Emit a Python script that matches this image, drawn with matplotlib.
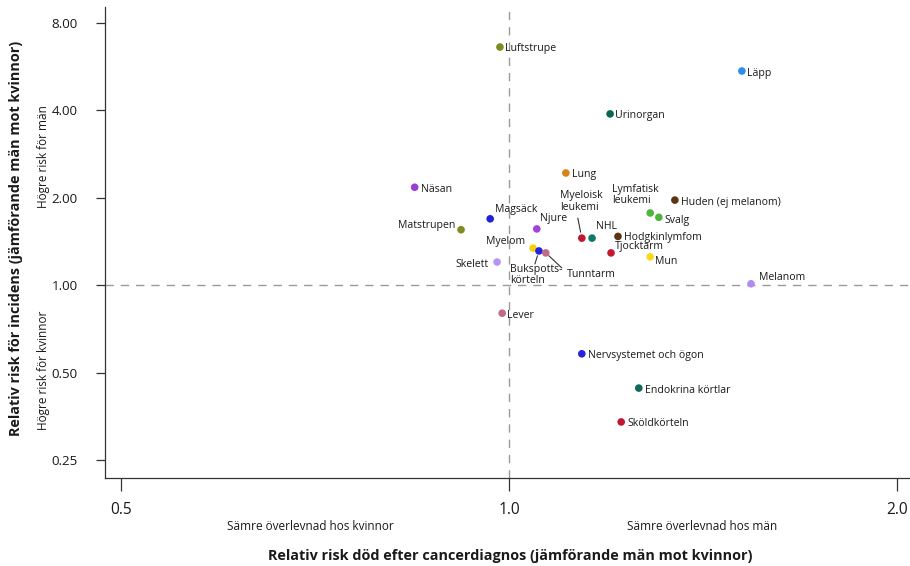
import matplotlib
matplotlib.use("Agg")
import matplotlib.pyplot as plt
from matplotlib import font_manager
from matplotlib.ticker import FixedLocator, NullLocator, FixedFormatter

# Cancer sites: relative risk of death after diagnosis (x) and relative incidence (y), men vs women
sites = ["Luftstrupe", "Läpp", "Urinorgan", "Lung", "Näsan", "Huden (ej melanom)",
         "Lymfatisk\nleukemi", "Svalg", "Magsäck", "Matstrupen", "Njure",
         "Myeloisk\nleukemi", "NHL", "Hodgkinlymfom", "Myelom", "Bukspotts-\nkörteln",
         "Tunntarm", "Tjocktarm", "Mun", "Skelett", "Melanom", "Lever",
         "Nervsystemet och ögon", "Endokrina körtlar", "Sköldkörteln"]
death_rr = [0.984, 1.516, 1.198, 1.107, 0.845, 1.345,
            1.287, 1.307, 0.967, 0.918, 1.051,
            1.139, 1.160, 1.215, 1.044, 1.055,
            1.068, 1.200, 1.287, 0.979, 1.541, 0.988,
            1.139, 1.261, 1.222]
incidence_rr = [6.59, 5.45, 3.88, 2.43, 2.17, 1.96,
                1.77, 1.71, 1.69, 1.55, 1.56,
                1.45, 1.45, 1.47, 1.34, 1.31,
                1.29, 1.29, 1.25, 1.20, 1.01, 0.80,
                0.58, 0.442, 0.338]
colors = ["#808b22", "#2b8ef0", "#0d6356", "#d9821c", "#9b3bd8", "#5b3412",
          "#4fb43c", "#4fb43c", "#2323d4", "#808b22", "#a143e0",
          "#c2182f", "#10796a", "#5b3412", "#f5d20f", "#2323e0",
          "#c06b8a", "#c2182f", "#f8d81a", "#b795f0", "#b08cf0", "#c06b8a",
          "#2323e0", "#0f6a5a", "#c2182f"]

x_ticks = [0.5, 1.0, 2.0]
x_tick_labels = ["0.5", "1.0", "2.0"]
y_ticks = [0.25, 0.5, 1.0, 2.0, 4.0, 8.0]
y_tick_labels = ["0.25", "0.50", "1.00", "2.00", "4.00", "8.00"]


def pick_font(*names):
    for n in names:
        try:
            font_manager.findfont(n, fallback_to_default=False)
            return n
        except Exception:
            continue
    return "DejaVu Sans"


base_font = pick_font("Open Sans", "Lato", "Noto Sans")
narrow_font = pick_font("Liberation Sans Narrow", "Open Sans", "Lato")
plt.rcParams["font.family"] = [base_font, "DejaVu Sans"]

W, H = 910, 566
fig = plt.figure(figsize=(W / 100, H / 100), dpi=100)
ax = fig.add_axes([105 / W, (H - 478) / H, (W - 105) / W, (478 - 7) / H])

ax.set_xscale("log", base=2)
ax.set_yscale("log", base=2)
ax.set_xlim(2 ** -1.041, 2 ** 1.0335)
ax.set_ylim(0.2168, 9.05)

# reference lines at equal risk
ax.axvline(1.0, color="#9a9a9a", lw=1.0, ls=(0, (6, 5)), zorder=1)
ax.axhline(1.0, color="#9a9a9a", lw=1.0, ls=(0, (6, 5)), zorder=1)

ax.scatter(death_rr, incidence_rr, s=30, c=colors, edgecolors="none", zorder=3)

# label placement: (dx, dy) in pixels, horizontal alignment
PX = 0.72
place = {
    "Luftstrupe": (5, -1, "left"),
    "Läpp": (5, -2, "left"),
    "Urinorgan": (5, -2, "left"),
    "Lung": (6, -2, "left"),
    "Näsan": (6, -2, "left"),
    "Huden (ej melanom)": (6, -2, "left"),
    "Lymfatisk\nleukemi": (-38, 18, "left"),
    "Svalg": (6, -3, "left"),
    "Magsäck": (5, 9, "left"),
    "Matstrupen": (-6, 4, "right"),
    "Njure": (3, 10, "left"),
    "Myeloisk\nleukemi": (-22, 37, "left"),
    "NHL": (4, 12, "left"),
    "Hodgkinlymfom": (6, -1, "left"),
    "Myelom": (-8, 7, "right"),
    "Bukspotts-\nkörteln": (-29, -24, "left"),
    "Tunntarm": (21, -22, "left"),
    "Tjocktarm": (4, 6, "left"),
    "Mun": (5, -5, "left"),
    "Skelett": (-8, -2, "right"),
    "Melanom": (8, 6, "left"),
    "Lever": (5, -2, "left"),
    "Nervsystemet och ögon": (6, -2, "left"),
    "Endokrina körtlar": (6, -2, "left"),
    "Sköldkörteln": (6, -2, "left"),
}
for name, xv, yv in zip(sites, death_rr, incidence_rr):
    dx, dy, ha = place[name]
    ax.annotate(name, (xv, yv), xytext=(dx * PX, dy * PX), textcoords="offset points",
                ha=ha, va="center", multialignment="left", fontsize=7.6,
                color="#1a1a1a", linespacing=1.1, zorder=4)

# leader lines from crowded labels to their points: (far end dx, dy), near-end distance, in pixels
leaders = {
    "Myeloisk\nleukemi": ((-4, 20), 6),
    "Bukspotts-\nkörteln": ((-4, -13), 5),
    "Tunntarm": ((16, -15), 4),
}
for name, ((lx, ly), shrink) in leaders.items():
    i = sites.index(name)
    ax.annotate("", (death_rr[i], incidence_rr[i]), xytext=(lx * PX, ly * PX),
                textcoords="offset points",
                arrowprops=dict(arrowstyle="-", color="#333333", lw=0.8,
                                shrinkA=0, shrinkB=shrink * PX), zorder=2)

for s in ("top", "right"):
    ax.spines[s].set_visible(False)
for s in ("left", "bottom"):
    ax.spines[s].set_linewidth(0.9)
    ax.spines[s].set_color("#333333")

ax.xaxis.set_major_locator(FixedLocator(x_ticks))
ax.xaxis.set_major_formatter(FixedFormatter(x_tick_labels))
ax.xaxis.set_minor_locator(NullLocator())
ax.yaxis.set_major_locator(FixedLocator(y_ticks))
ax.yaxis.set_major_formatter(FixedFormatter(y_tick_labels))
ax.yaxis.set_minor_locator(NullLocator())
ax.tick_params(axis="x", length=9, width=0.9, color="#333333", pad=8,
               labelsize=11.2, labelcolor="#1a1a1a")
ax.tick_params(axis="y", length=6.5, width=0.9, color="#333333", pad=13,
               labelsize=9.6, labelcolor="#1a1a1a")

# axis titles
fig.text(16 / W, 1 - 238 / H, "Relativ risk för incidens (jämförande män mot kvinnor)",
         rotation=90, ha="center", va="center", fontsize=10.4, fontweight="bold",
         color="#1a1a1a")
fig.text(510 / W, 1 - 556 / H, "Relativ risk död efter cancerdiagnos (jämförande män mot kvinnor)",
         ha="center", va="center", fontsize=10.4, fontweight="bold", color="#1a1a1a")

# direction hints
fig.text(44 / W, 1 - 157 / H, "Högre risk för män", rotation=90, ha="center", va="center",
         fontsize=8.5, family=[narrow_font, "DejaVu Sans"], color="#1a1a1a")
fig.text(44 / W, 1 - 370 / H, "Högre risk för kvinnor", rotation=90, ha="center", va="center",
         fontsize=8.5, family=[narrow_font, "DejaVu Sans"], color="#1a1a1a")
fig.text(310 / W, 1 - 526 / H, "Sämre överlevnad hos kvinnor", ha="center", va="center",
         fontsize=8.5, family=[narrow_font, "DejaVu Sans"], color="#1a1a1a")
fig.text(702 / W, 1 - 526 / H, "Sämre överlevnad hos män", ha="center", va="center",
         fontsize=8.5, family=[narrow_font, "DejaVu Sans"], color="#1a1a1a")

fig.savefig("out.png", dpi=100)
